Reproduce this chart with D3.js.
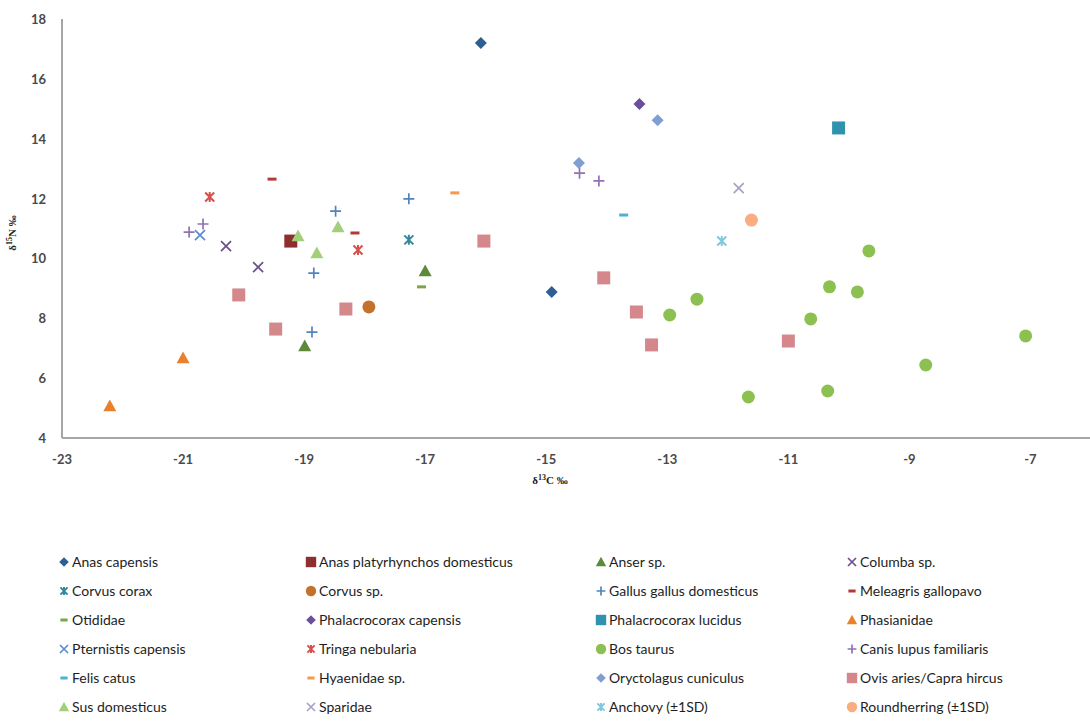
<!DOCTYPE html>
<html>
<head>
<meta charset="utf-8">
<script src="https://cdn.jsdelivr.net/npm/d3@7/dist/d3.min.js"></script>
<style>
    body { margin: 0; background: #fff; }
    .tick-label { font-family: Lato, "Open Sans", sans-serif; font-size: 13px; font-weight: bold; fill: #4a4a4a; }
    .axis-title { font-family: "Liberation Serif", "DejaVu Serif", serif; font-size: 11px; font-weight: bold; fill: #222; }
    .legend-label { font-family: Lato, "Open Sans", sans-serif; font-size: 14px; fill: #1e1e1e; }
</style>
</head>
<body>
<div id="chart"></div>
<script>

// series names, in legend order (4 per row)
var species = [
    "Anas capensis", "Anas platyrhynchos domesticus", "Anser sp.", "Columba sp.",
    "Corvus corax", "Corvus sp.", "Gallus gallus domesticus", "Meleagris gallopavo",
    "Otididae", "Phalacrocorax capensis", "Phalacrocorax lucidus", "Phasianidae",
    "Pternistis capensis", "Tringa nebularia", "Bos taurus", "Canis lupus familiaris",
    "Felis catus", "Hyaenidae sp.", "Oryctolagus cuniculus", "Ovis aries/Capra hircus",
    "Sus domesticus", "Sparidae", "Anchovy (\u00b11SD)", "Roundherring (\u00b11SD)"
];

var colors = [
    "#2e5f93", "#8e2f2f", "#5d8a3a", "#6a4f8c",
    "#35869c", "#c4712d", "#5282c0", "#b23b37",
    "#7aa648", "#6b4f9e", "#2f93ad", "#e8802c",
    "#5a8cd2", "#d6504b", "#8cc152", "#9271b6",
    "#4cb2d0", "#f5994a", "#7f9fd3", "#d4888b",
    "#a3cf7c", "#aa9fc7", "#80c8dd", "#f9ad80"
];

var shapes = [
    "diamond", "square", "triangle", "x",
    "asterisk", "circle", "plus", "dash",
    "dash", "diamond", "square", "triangle",
    "x", "asterisk", "circle", "plus",
    "dash", "dash", "diamond", "square",
    "triangle", "x", "asterisk", "circle"
];

// δ13C values per series
var carbon = [
    [-16.08, -14.91],
    [-19.22],
    [-17.0, -18.99],
    [-20.29, -19.76],
    [-17.27],
    [-17.93],
    [-18.48, -17.27, -18.84, -18.87],
    [-19.53, -18.16],
    [-17.06],
    [-13.46],
    [-10.17],
    [-21.0, -22.21],
    [-20.72],
    [-20.56, -18.11],
    [-12.96, -12.51, -9.67, -10.32, -9.86, -10.63, -7.08, -8.73, -10.35, -11.66],
    [-20.9, -20.67, -14.45, -14.13],
    [-13.72],
    [-16.51],
    [-13.16, -14.46],
    [-20.08, -19.47, -18.31, -16.03, -14.05, -13.51, -13.26, -11.0],
    [-19.1, -18.79, -18.44],
    [-11.82],
    [-12.1],
    [-11.61]
];

// δ15N values per series
var nitrogen = [
    [17.2, 8.88],
    [10.58],
    [9.58, 7.07],
    [10.41, 9.71],
    [10.62],
    [8.38],
    [11.58, 11.99, 9.51, 7.54],
    [12.65, 10.85],
    [9.05],
    [15.16],
    [14.36],
    [6.67, 5.07],
    [10.78],
    [12.05, 10.28],
    [8.11, 8.64, 10.25, 9.05, 8.88, 7.98, 7.41, 6.44, 5.57, 5.37],
    [10.88, 11.15, 12.85, 12.59],
    [11.45],
    [12.19],
    [14.62, 13.19],
    [8.78, 7.64, 8.31, 10.58, 9.35, 8.21, 7.11, 7.24],
    [10.75, 10.18, 11.05],
    [12.35],
    [10.58],
    [11.28]
];

var xTicks = [-23, -21, -19, -17, -15, -13, -11, -9, -7];
var yTicks = [4, 6, 8, 10, 12, 14, 16, 18];


/**
 * builds the svg path of one excel-like marker, centred on 0,0
 * @param shape -- marker name
 * @param s -- scale factor (1 for the plot, smaller for the legend)
 */
function markerPath(shape, s) {
    var r;
    switch (shape) {
        case "diamond":
            r = 6 * s;
            return "M0," + (-r) + "L" + r + ",0L0," + r + "L" + (-r) + ",0Z";
        case "square":
            r = 6.5 * s;
            return "M" + (-r) + "," + (-r) + "h" + 2 * r + "v" + 2 * r + "h" + (-2 * r) + "Z";
        case "triangle":
            r = 6.5 * s;
            return "M0," + (-r) + "L" + r + "," + (r * 0.8) + "L" + (-r) + "," + (r * 0.8) + "Z";
        case "circle":
            r = 6.5 * s;
            return "M" + r + ",0A" + r + "," + r + " 0 1,1 " + (-r) + ",0A" + r + "," + r + " 0 1,1 " + r + ",0Z";
        case "plus":
            r = 5.5 * s;
            return "M" + (-r) + ",0H" + r + "M0," + (-r) + "V" + r;
        case "x":
            r = 5 * s;
            return "M" + (-r) + "," + (-r) + "L" + r + "," + r + "M" + (-r) + "," + r + "L" + r + "," + (-r);
        case "asterisk":
            r = 4.5 * s;
            return "M" + (-r) + "," + (-r) + "L" + r + "," + r + "M" + (-r) + "," + r + "L" + r + "," + (-r) +
                "M0," + (-r - 0.5) + "V" + (r + 0.5);
        case "dash":
            r = 4.5 * s;
            return "M" + (-r) + ",0H" + r;
    }
}

function isStroked(shape) {
    return shape === "plus" || shape === "x" || shape === "asterisk" || shape === "dash";
}

function strokeWidth(shape) {
    if (shape === "dash") return 3;
    if (shape === "asterisk") return 2;
    return 1.7;
}


var width = 1090, height = 723;

var svg = d3.select("#chart").append("svg")
    .attr("width", width)
    .attr("height", height);

var x = d3.scaleLinear().domain([-23, -6]).range([62, 1091]);
var y = d3.scaleLinear().domain([4, 18]).range([438, 19]);

// axis lines only, excel style (no tick marks)
svg.append("line")
    .attr("x1", x(-23)).attr("x2", x(-6))
    .attr("y1", y(4)).attr("y2", y(4))
    .attr("stroke", "#a6a6a6").attr("stroke-width", 2);
svg.append("line")
    .attr("x1", x(-23)).attr("x2", x(-23))
    .attr("y1", y(4)).attr("y2", y(18))
    .attr("stroke", "#a6a6a6").attr("stroke-width", 2);

svg.selectAll(".ytick").data(yTicks).enter().append("text")
    .attr("class", "tick-label")
    .attr("x", 46)
    .attr("y", function(d) { return y(d) + 5; })
    .attr("text-anchor", "end")
    .text(function(d) { return d; });

svg.selectAll(".xtick").data(xTicks).enter().append("text")
    .attr("class", "tick-label")
    .attr("x", function(d) { return x(d); })
    .attr("y", 464)
    .attr("text-anchor", "middle")
    .text(function(d) { return d; });

// axis titles with superscript isotope numbers
var xTitle = svg.append("text")
    .attr("class", "axis-title")
    .attr("x", 550).attr("y", 484)
    .attr("text-anchor", "middle");
xTitle.append("tspan").text("\u03b4");
xTitle.append("tspan").attr("dy", -4).style("font-size", "8px").text("13");
xTitle.append("tspan").attr("dy", 4).text("C \u2030");

var yTitle = svg.append("text")
    .attr("class", "axis-title")
    .attr("transform", "translate(16,233) rotate(-90)")
    .attr("text-anchor", "middle");
yTitle.append("tspan").text("\u03b4");
yTitle.append("tspan").attr("dy", -4).style("font-size", "8px").text("15");
yTitle.append("tspan").attr("dy", 4).text("N \u2030");


// points, one group per series so later series draw on top
var series = species.map(function(name, i) {
    return {
        name: name,
        color: colors[i],
        shape: shapes[i],
        points: carbon[i].map(function(c, j) { return {c: c, n: nitrogen[i][j]}; })
    };
});

var groups = svg.selectAll(".series").data(series).enter().append("g")
    .attr("class", "series");

groups.each(function(s) {
    d3.select(this).selectAll("path").data(s.points).enter().append("path")
        .attr("transform", function(p) { return "translate(" + x(p.c) + "," + y(p.n) + ")"; })
        .attr("d", markerPath(s.shape, 1))
        .attr("fill", isStroked(s.shape) ? "none" : s.color)
        .attr("stroke", isStroked(s.shape) ? s.color : "none")
        .attr("stroke-width", strokeWidth(s.shape));
});


// legend, 4 columns x 6 rows
var legendCols = [64, 311, 601, 852];
var legendTop = 562, legendStep = 29;

var legend = svg.selectAll(".legend").data(series).enter().append("g")
    .attr("class", "legend")
    .attr("transform", function(d, i) {
        return "translate(" + legendCols[i % 4] + "," + (legendTop + Math.floor(i / 4) * legendStep) + ")";
    });

legend.append("path")
    .attr("d", function(d) { return markerPath(d.shape, 0.8); })
    .attr("fill", function(d) { return isStroked(d.shape) ? "none" : d.color; })
    .attr("stroke", function(d) { return isStroked(d.shape) ? d.color : "none"; })
    .attr("stroke-width", function(d) { return strokeWidth(d.shape); });

legend.append("text")
    .attr("class", "legend-label")
    .attr("x", 8)
    .attr("y", 5)
    .text(function(d) { return d.name; });

</script>
</body>
</html>
